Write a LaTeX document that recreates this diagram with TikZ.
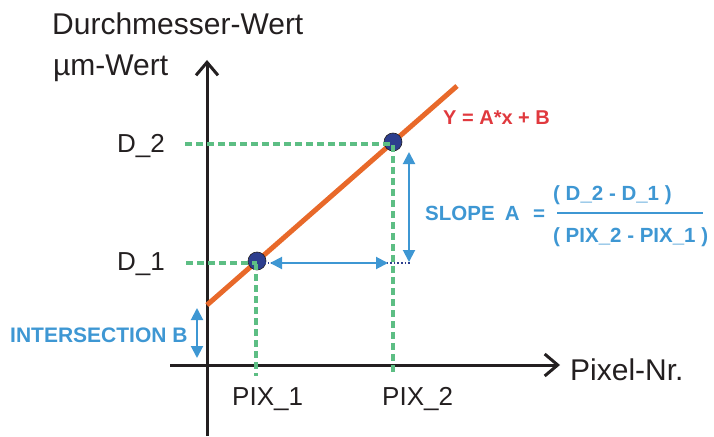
\documentclass[tikz,border=0pt]{standalone}
\usepackage{fontspec}
\setmainfont{Liberation Sans}
\usetikzlibrary{arrows.meta}
\definecolor{axisblack}{HTML}{231F20}
\definecolor{fitorange}{HTML}{E8692A}
\definecolor{eqred}{HTML}{E0393E}
\definecolor{dimblue}{HTML}{3E97D3}
\definecolor{guidegreen}{HTML}{5DBE84}
\definecolor{ptnavy}{HTML}{2D3E8E}
\begin{document}
\begin{tikzpicture}[x=1pt,y=-1pt,
  axis/.style={line width=3pt, draw=axisblack, -{Straight Barb[length=13pt,width=22pt,line width=3pt]}},
  guide/.style={draw=guidegreen, line width=3.4pt, dash pattern=on 7pt off 4pt},
  dim/.style={draw=dimblue, line width=2pt, {Triangle[length=12pt,width=12pt,fill=dimblue]}-{Triangle[length=12pt,width=12pt,fill=dimblue]}},
  lbl/.style={inner sep=0pt, anchor=base west, text=axisblack, font=\fontsize{26}{30}\selectfont},
  biglbl/.style={inner sep=0pt, anchor=base west, text=axisblack, font=\fontsize{30}{34}\selectfont},
  bluetxt/.style={inner sep=0pt, anchor=base west, text=dimblue, font=\fontsize{20.5}{24}\selectfont\bfseries},
  pt/.style={circle, fill=ptnavy, draw=axisblack, line width=0.6pt, minimum size=18pt, inner sep=0pt}]
\useasboundingbox (0,0) rectangle (714,436);
% axes
\coordinate (ybot) at (207,436);
\coordinate (ytop) at (207,60);
\coordinate (xleft) at (170,365);
\coordinate (xright) at (560,365);
\draw[axis] (ybot) -- (ytop);
\draw[axis] (xleft) -- (xright);
% fit line
\coordinate (fitstart) at (207,305);
\coordinate (fitend) at (457,86);
\draw[draw=fitorange, line width=5pt] (fitstart) -- (fitend);
% points
\node[pt] (p1) at (257,261) {};
\node[pt] (p2) at (393,142) {};
% green guides
\coordinate (d2l) at (185,144);
\coordinate (d2r) at (393,144);
\coordinate (pix2b) at (393,372);
\coordinate (d1l) at (186,263);
\coordinate (d1r) at (257,263);
\coordinate (pix1b) at (256,376);
\coordinate (pix1t) at (256,263);
\draw[guide] (d2l) -- (d2r) -- (pix2b);
\draw[guide] (d1l) -- (d1r);
\draw[guide] (pix1t) -- (pix1b);
% dotted
\coordinate (dotend) at (410,263);
\draw[draw=ptnavy, line width=1.6pt, dotted] (p1.center) ++(0,2) -- (dotend);
% blue dimension arrows
\coordinate (ha) at (270,263);
\coordinate (hb) at (388,263);
\draw[dim] (ha) -- (hb);
\coordinate (va) at (409,152);
\coordinate (vb) at (409,262);
\draw[dim] (va) -- (vb);
\coordinate (ia) at (197,308);
\coordinate (ib) at (197,358);
\draw[dim] (ia) -- (ib);
% labels
\node[biglbl] (ylab1) at (52,35) {Durchmesser-Wert};
\node[biglbl] (ylab2) at (53,75) {µm-Wert};
\node[biglbl] (xlab) at (570,380) {Pixel-Nr.};
\node[lbl] (d2) at (117,152) {D\_2};
\node[lbl] (d1) at (117,270) {D\_1};
\node[lbl] (pix1) at (232,405) {PIX\_1};
\node[lbl] (pix2) at (382,405) {PIX\_2};
\node[bluetxt, text=eqred, font=\fontsize{20}{22}\selectfont\bfseries] (eq) at (443,124) {Y = A*x + B};
\node[bluetxt] (slope) at (425,220) {SLOPE\hspace{0.5em}A};
\node[bluetxt] (eqs) at (533,220) {=};
\node[bluetxt] (num) at (553,200) {( D\_2 - D\_1 )};
\node[bluetxt] (den) at (553,242) {( PIX\_2 - PIX\_1 )};
\coordinate (bara) at (557,213);
\coordinate (barb) at (703,213);
\draw[draw=dimblue, line width=1.6pt] (bara) -- (barb);
\node[bluetxt, font=\fontsize{21}{24}\selectfont\bfseries] (inter) at (10,342) {INTERSECTION B};
\end{tikzpicture}
\end{document}
